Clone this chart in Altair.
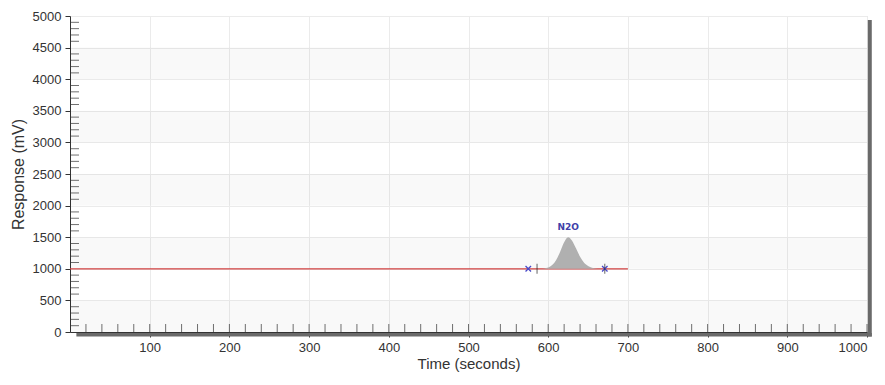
import altair as alt
import pandas as pd

# ---- data ----
baseline_t = [0, 700]
baseline_v = [1000, 1000]

peak_t = [590, 595, 600, 605, 610, 615, 620, 625, 630, 635, 640, 645, 650, 655, 660, 665, 670]
peak_v = [1000, 1005, 1020, 1060, 1140, 1270, 1420, 1500, 1445, 1320, 1190, 1095, 1045, 1018, 1006, 1001, 1000]

x_marks_t = [575, 671]
x_marks_v = [1000, 1000]
bar_marks_t = [586, 671]
bar_marks_v = [1000, 1000]

label_t = [625]
label_v = [1660]
label_txt = ["N2O"]

x_major = [100, 200, 300, 400, 500, 600, 700, 800, 900, 1000]
y_major = [0, 500, 1000, 1500, 2000, 2500, 3000, 3500, 4000, 4500, 5000]
x_minor = [v for v in range(20, 1000, 20) if v % 100 != 0]
y_minor = [v for v in range(100, 5000, 100) if v % 500 != 0]
band_lo = [0, 1000, 2000, 3000, 4000]
band_hi = [500, 1500, 2500, 3500, 4500]

W, H = 797, 316
xs = alt.Scale(domain=[0, 1000], nice=False, zero=False)
ys = alt.Scale(domain=[0, 5000], nice=False, zero=False)

axis_common = dict(grid=True, gridColor="#ebebeb", domainColor="#333", tickColor="#333", tickSize=5,
                   labelFont="Liberation Sans", labelFontSize=13, labelColor="#333", format="d",
                   labelOverlap=False, titleFont="Liberation Sans", titleFontWeight="normal",
                   titleColor="#333")
AX = alt.Axis(values=x_major, labelPadding=4, titlePadding=2, titleFontSize=15, **axis_common)
AY = alt.Axis(values=y_major, labelPadding=4, titlePadding=6, titleFontSize=16, **axis_common)


def X(f):
    return alt.X(f, scale=xs, axis=AX, title="Time (seconds)")


def Y(f):
    return alt.Y(f, scale=ys, axis=AY, title="Response (mV)")


bands = alt.Chart(pd.DataFrame({"lo": band_lo, "hi": band_hi})).mark_rect(color="#000", opacity=0.022).encode(
    y=Y("lo:Q"), y2="hi:Q"
)

xminor = alt.Chart(pd.DataFrame({"t": x_minor + x_major})).mark_tick(color="#333", thickness=1, size=8, orient="vertical").encode(
    x=X("t:Q"), y=alt.value(H - 4)
)
yminor = alt.Chart(pd.DataFrame({"v": y_minor})).mark_tick(color="#333", thickness=1, size=8, orient="horizontal").encode(
    y=Y("v:Q"), x=alt.value(5)
)

shadow_b = alt.Chart(pd.DataFrame({"a": [8], "b": [1006]})).mark_rect(color="#6a6a6a").encode(
    x=X("a:Q"), x2="b:Q", y=alt.value(H + 1), y2=alt.value(H + 4.5)
)
shadow_r = alt.Chart(pd.DataFrame({"a": [1001], "b": [1006]})).mark_rect(color="#6a6a6a").encode(
    x=X("a:Q"), x2="b:Q", y=alt.value(4), y2=alt.value(H + 4.5)
)

base_line = alt.Chart(pd.DataFrame({"t": baseline_t, "v": baseline_v})).mark_line(color="#d04040", strokeWidth=1.2).encode(
    x=X("t:Q"), y=Y("v:Q")
)

peak = alt.Chart(pd.DataFrame({"t": peak_t, "v": peak_v, "b": [1000] * len(peak_t)})).mark_area(
    color="#b0b0b0", opacity=1, interpolate="monotone"
).encode(x=X("t:Q"), y=Y("v:Q"), y2="b:Q")

xm = alt.Chart(pd.DataFrame({"t": x_marks_t, "v": x_marks_v})).mark_point(
    shape="M-1,-1L1,1M-1,1L1,-1", color="#4848c8", size=30, strokeWidth=1.3, filled=False, opacity=1
).encode(x=X("t:Q"), y=Y("v:Q"))

bm = alt.Chart(pd.DataFrame({"t": bar_marks_t, "v": bar_marks_v})).mark_tick(
    color="#222", thickness=1, size=10, orient="vertical"
).encode(x=X("t:Q"), y=Y("v:Q"))

lbl = alt.Chart(pd.DataFrame({"t": label_t, "v": label_v, "s": label_txt})).mark_text(
    color="#4040a8", font="DejaVu Sans", fontSize=9, fontWeight="bold"
).encode(x=X("t:Q"), y=Y("v:Q"), text="s:N")

chart = alt.layer(
    bands, shadow_b, shadow_r, xminor, yminor, base_line, peak, xm, bm, lbl
).properties(
    width=W, height=H,
    autosize=alt.AutoSizeParams(type="none"),
    padding={"left": 62, "top": 8, "right": 6, "bottom": 48},
).configure_view(stroke="#555", strokeWidth=1).configure(background="white")

chart.save("out.html", embed_options={"renderer": "svg", "actions": False})
